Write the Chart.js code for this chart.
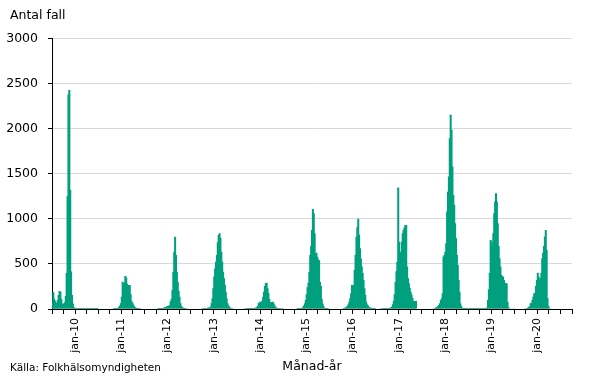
<!DOCTYPE html>
<html><head><meta charset="utf-8">
<script src="https://cdn.jsdelivr.net/npm/chart.js@4"></script>
<style>html,body{margin:0;padding:0;background:#fff}#wrap{width:605px;height:379px;position:relative}</style>
</head><body><div id="wrap"><canvas id="c" width="605" height="379"></canvas></div>
<script>
// Weekly case counts, one array per 52-week block starting mid-2009
const s2009_10 = [75,185,110,90,65,70,100,155,200,190,110,60,50,60,75,145,400,1250,2380,2430,1320,415,155,60,20,
  15,12,12,10,10,10,10,10,10,10,10,10,10,10,10,10,10,10,10,10,10,10,10,10,10,10,10];
const s2010_11 = [0,0,5,0,0,5,0,0,0,5,0,0,0,0,0,0,0, 10,10,10,10,12,
  15,26,40,63,137,303,285,290,366,350,280,248,266,266,163,89,70,50,30,20,15,12, 10,10,10,8, 0,0,0,0];
const s2011_12 = [5,0,0,0,0,0,0,0,5,0,0,0,0,0, 8,8,10,10,10,12,12,15,18,20,
  25,30,33,35,45,85,111,211,414,636,800,600,414,300,200,137,63,33,20,15,10, 10,8,8, 0,0,0,0];
const s2012_13 = [0,0,0,0,5,0,0,5,0,0,0,0, 8,8,10,10,10,12,12,15, 15,20,
  26,63,118,230,360,450,525,600,740,820,840,790,636,525,414,340,266,190,118,63,40,26,15,10, 8,8,5,0,0,0];
const s2013_14 = [0,5,0,0,5,0,0,0, 8,8,8,10,10,10,10,10,10,10,12,12,15,15,20,
  33,63,75,81,65,92,137,192,255,285,292,230,180,111,75,70,74,81,60,40,26,15, 10,10,10,8,8,8,8];
const s2014_15 = [8,5, 0,0,5,0,0,5,0,0,0,5,0,0,5, 8,10,10,10,12,12,
  15,20,40,63,100,163,240,292,414,600,700,877,1110,1062,840,618,625,580,550,540,300,255,107,60,30,15, 10,10,10,8,8];
const s2015_16 = [5,0,0,0,5,0,0,0,0,5,0,0,0,5,0, 8,10,
  15,18,25,33,52,81,118,174,266,260,266,433,600,800,907,1000,825,673,560,470,400,322,229,155,81,50,40,20,18,15, 12,10,10,10,10];
const s2016_17 = [0,5,0,0,0, 8,8,8,10,10,10,10,10,10,12,12,15,18,
  26,52,89,163,300,420,525,1347,747,618,636,747,840,880,903,932,932,470,340,285,237,192,160,126,89,89,89,89, 0,0,0,0,0,0];
const s2017_18 = [0,0,0,0,0,0,0,0,0,0,0,0,0,
  7,10,15,20,26,35,44,63,100,118,174,581,600,636,729,1080,1300,1469,1894,2153,1987,1580,1265,1154,951,784,600,488,322,192,60,30,
  15,12,10,10,10,10,10];
const s2018_19 = [10,10,10,10,10,10,10,10,10,10,10,10,10,10,10,10,10,10,12,12,15,
  15,100,218,400,766,747,710,840,1062,1191,1284,1191,951,700,562,470,377,366,359,322,285,285,285,81,20, 5,8,0,0,0,8];
const s2019_20 = [0,0,0,0,0,0,0,0,0,0,0,0,
  7,7,10,15,26,26,63,63,100,137,174,174,255,322,403,359,322,340,400,562,620,700,803,877,655,118,33,7,7,
  0,5,0,0,5,0,0,0,5,0,0];
const s2020 = [0,0,0,0,0,0,0,0,0,0,0,0,0];

const yearLabels = ['jan-10','jan-11','jan-12','jan-13','jan-14','jan-15','jan-16','jan-17','jan-18','jan-19','jan-20'];
const titleText = 'Antal fall';
const xTitleText = 'Månad-år';
const sourceText = 'Källa: Folkhälsomyndigheten';

const weeks = [].concat(s2009_10,s2010_11,s2011_12,s2012_13,s2013_14,s2014_15,s2015_16,s2016_17,s2017_18,s2018_19,s2019_20,s2020);
const points = weeks.map((v,i)=>({x:i,y:v}));
const nTicks = Math.round(weeks.length/13);
const tickPositions = [];
for (let k=0;k<=nTicks;k++) tickPositions.push(k*13-0.5);
function labelFor(idx){
  if (idx>=2 && (idx-2)%4===0) { const j=(idx-2)/4; return yearLabels[j]||''; }
  return '';
}
const F = '"DejaVu Sans", Verdana, sans-serif';
const sourcePlugin = {id:'source',
  afterLayout(chart){ if (chart.titleBlock) { chart.titleBlock.left = 10; } },
  afterDraw(chart){
    const c=chart.ctx; c.save(); c.font='10.5px "DejaVu Sans"'; c.fillStyle='#000';
    c.textBaseline='middle'; c.textAlign='left'; c.fillText(sourceText,10,368.5); c.restore();
  }};

new Chart(document.getElementById('c').getContext('2d'), {
  type:'bar',
  data:{datasets:[{data:points, backgroundColor:'#00A07F', borderWidth:0, inflateAmount:0, barPercentage:2.3, categoryPercentage:1}]},
  options:{
    responsive:false, animation:false, devicePixelRatio:1,
    layout:{padding:{left:4,right:33,top:0,bottom:0}},
    plugins:{legend:{display:false}, tooltip:{enabled:false},
      title:{display:true,text:titleText,align:'start',color:'#000',font:{family:F,size:12.5,weight:'normal'},padding:{top:8,bottom:15.5}}},
    scales:{
      x:{type:'linear',min:-0.5,max:weeks.length-0.5,offset:false,bounds:'data',
        afterBuildTicks:(s)=>{s.ticks = tickPositions.map(v=>({value:v}));},
        afterFit:(s)=>{s.height=70;},
        grid:{display:true,drawOnChartArea:false,drawTicks:true,tickLength:5,tickColor:'#000',offset:false},
        border:{display:true,color:'#000',width:1},
        ticks:{autoSkip:false,maxRotation:90,minRotation:90,padding:4,color:'#000',font:{family:F,size:11},callback:(v,i)=>labelFor(i)},
        title:{display:true,text:xTitleText,color:'#000',font:{family:F,size:12.5},padding:{top:0,bottom:5}}
      },
      y:{min:0,max:3000,afterFit:(s)=>{s.width=48;},
        ticks:{stepSize:500,padding:10,color:'#000',font:{family:F,size:12.5},callback:(v)=>String(v)},
        grid:{color:'#d9d9d9',tickColor:'#000',tickLength:4,drawTicks:true},
        border:{color:'#000',width:1}}
    }
  },
  plugins:[sourcePlugin]
});
</script></body></html>
